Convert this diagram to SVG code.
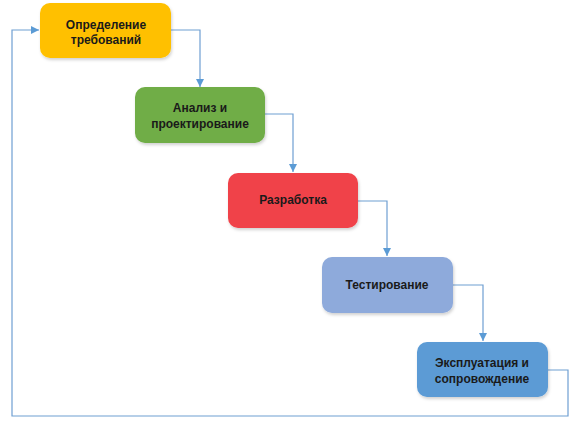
<svg xmlns="http://www.w3.org/2000/svg" width="580" height="428" viewBox="0 0 580 428">
<style>
.box{stroke:none;filter:url(#sh)}
.lbl{font-family:"Liberation Sans",Arial,sans-serif;font-size:12px;font-weight:bold;fill:#1a1a1a;text-anchor:middle}
.con{fill:none;stroke:#6f9fd2;stroke-width:1.2}
</style>
<defs>
<filter id="sh" x="-10%" y="-10%" width="130%" height="140%">
<feDropShadow dx="1" dy="2" stdDeviation="1.5" flood-color="#000" flood-opacity="0.18"/>
</filter>
<marker id="ar" markerWidth="10" markerHeight="10" refX="8" refY="4" orient="auto" markerUnits="userSpaceOnUse">
<path d="M0,0 L8,4 L0,8 Z" fill="#5b9bd5"/>
</marker>
</defs>
<rect width="580" height="428" fill="#fff"/>
<g id="connectors">
<path class="con" d="M171,30 H200 V87" marker-end="url(#ar)"/>
<path class="con" d="M265,114 H293 V172" marker-end="url(#ar)"/>
<path class="con" d="M358,201 H387 V256" marker-end="url(#ar)"/>
<path class="con" d="M453,285 H483 V341" marker-end="url(#ar)"/>
<path class="con" d="M548,370 H568 V416 H12 V30 H39" marker-end="url(#ar)"/>
</g>
<g id="n1">
<rect class="box" x="40" y="3" width="131" height="55" rx="10" fill="#ffc000"/>
<text class="lbl" x="106" y="29">Определение</text>
<text class="lbl" x="106" y="44">требований</text>
</g>
<g id="n2">
<rect class="box" x="135" y="87" width="130" height="56" rx="10" fill="#70ad47"/>
<text class="lbl" x="200" y="112">Анализ и</text>
<text class="lbl" x="200" y="128">проектирование</text>
</g>
<g id="n3">
<rect class="box" x="228" y="173" width="130" height="55" rx="10" fill="#f0434a"/>
<text class="lbl" x="293" y="204">Разработка</text>
</g>
<g id="n4">
<rect class="box" x="322" y="257" width="131" height="56" rx="10" fill="#8eaadb"/>
<text class="lbl" x="387" y="289">Тестирование</text>
</g>
<g id="n5">
<rect class="box" x="417" y="342" width="131" height="55" rx="10" fill="#5b9bd5"/>
<text class="lbl" x="482" y="367">Эксплуатация и</text>
<text class="lbl" x="482" y="383">сопровождение</text>
</g>
</svg>
